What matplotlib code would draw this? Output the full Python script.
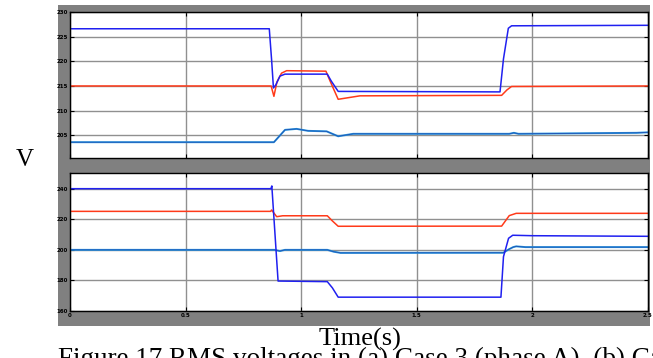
import matplotlib
matplotlib.use('Agg')
import matplotlib.pyplot as plt
from matplotlib.patches import Rectangle

# ---- (a) top panel
t_a_blue = [0, 0.862, 0.872, 0.880, 0.890, 0.908, 0.93, 1.113, 1.13, 1.16, 1.86, 1.875, 1.896, 1.91, 2.5]
v_a_blue = [226.6, 226.6, 220.3, 214.6, 215.2, 217.0, 217.4, 217.4, 216.0, 213.9, 213.8, 220.5, 226.7, 227.2, 227.3]

t_a_red = [0, 0.870, 0.882, 0.895, 0.915, 0.937, 1.107, 1.125, 1.16, 1.254, 1.867, 1.89, 1.91, 2.5]
v_a_red = [215.0, 215.0, 212.9, 215.8, 217.6, 218.1, 218.0, 216.0, 212.3, 213.0, 213.1, 214.2, 214.9, 215.0]

t_a_lb = [0, 0.882, 0.93, 0.98, 1.03, 1.11, 1.16, 1.225, 1.90, 1.92, 1.94, 2.45, 2.5]
v_a_lb = [203.6, 203.6, 206.1, 206.3, 205.9, 205.8, 204.8, 205.3, 205.3, 205.5, 205.3, 205.5, 205.6]

# ---- (b) bottom panel
t_b_blue = [0, 0.869, 0.873, 0.90, 1.113, 1.135, 1.16, 1.864, 1.875, 1.897, 1.915, 2.0, 2.5]
v_b_blue = [240.2, 240.2, 242.0, 179.5, 179.1, 175.0, 168.9, 168.9, 195.5, 207.6, 209.6, 209.3, 208.9]

t_b_red = [0, 0.868, 0.872, 0.894, 0.92, 1.113, 1.135, 1.16, 1.867, 1.90, 1.93, 2.5]
v_b_red = [225.3, 225.3, 226.2, 221.8, 222.4, 222.4, 219.0, 215.5, 215.6, 222.5, 224.0, 224.0]

t_b_lb = [0, 0.885, 0.908, 0.93, 1.113, 1.14, 1.17, 1.874, 1.90, 1.917, 1.93, 1.97, 2.5]
v_b_lb = [200.0, 200.0, 199.2, 200.0, 200.0, 198.8, 198.0, 198.1, 200.5, 201.8, 202.3, 201.8, 201.8]

x_ticks = [0, 0.5, 1, 1.5, 2, 2.5]
x_labels = ['0', '0.5', '1', '1.5', '2', '2.5']
a_ticks = [205, 210, 215, 220, 225, 230]
b_ticks = [160, 180, 200, 220, 240]

BLUE = '#2020f0'
RED = '#ff3a1a'
LBLUE = '#2a9de0'
NAVY = '#1c3aa8'

fig = plt.figure(figsize=(6.53, 3.58), dpi=100)
# gray scope background behind both panels
fig.patches.append(Rectangle((0.0888, 0.0894), 0.9066, 0.8966, transform=fig.transFigure,
                             facecolor='#808080', edgecolor='none', zorder=-5))

ax1 = fig.add_axes([0.1072, 0.5587, 0.8851, 0.4078])
ax2 = fig.add_axes([0.1072, 0.1321, 0.8851, 0.3846])

def style(ax, yt, showx):
	ax.set_facecolor('white')
	ax.set_xlim(0, 2.5)
	ax.set_xticks(x_ticks)
	ax.set_yticks(yt)
	ax.set_yticklabels([str(v) for v in yt], fontsize=4, fontweight='bold')
	if showx:
		ax.set_xticklabels(x_labels, fontsize=4, fontweight='bold')
	else:
		ax.set_xticklabels([])
	ax.tick_params(direction='in', length=3, width=0.8, top=True, right=True, pad=1.5)
	ax.grid(True, color='#909090', lw=1.0)
	ax.set_axisbelow(True)
	for s in ax.spines.values():
		s.set_linewidth(1.0)
		s.set_color('black')

ax1.plot(t_a_lb, v_a_lb, color=LBLUE, lw=1.4)
ax1.plot(t_a_lb, v_a_lb, color=NAVY, lw=0.7, alpha=0.7)
ax1.plot(t_a_red, v_a_red, color=RED, lw=1.1)
ax1.plot(t_a_blue, v_a_blue, color=BLUE, lw=1.1)
ax1.set_ylim(200.4, 230)
style(ax1, a_ticks, False)

ax2.plot(t_b_lb, v_b_lb, color=LBLUE, lw=1.4)
ax2.plot(t_b_lb, v_b_lb, color=NAVY, lw=0.7, alpha=0.7)
ax2.plot(t_b_red, v_b_red, color=RED, lw=1.1)
ax2.plot(t_b_blue, v_b_blue, color=BLUE, lw=1.1)
ax2.set_ylim(160, 250.5)
style(ax2, b_ticks, True)

serif = ['Liberation Serif', 'DejaVu Serif']
fig.text(25 / 653, 0.553, 'V', family=serif, fontsize=18, ha='center', va='center')
fig.text(360 / 653, 0.034, 'Time(s)', family=serif, fontsize=19, ha='center', va='baseline')
fig.text(58 / 653, -0.022, 'Figure 17 RMS voltages in (a) Case 3 (phase A), (b) Case 3 (phase B)',
         family=serif, fontsize=19.5, ha='left', va='baseline')

fig.savefig('out.png', dpi=100)
